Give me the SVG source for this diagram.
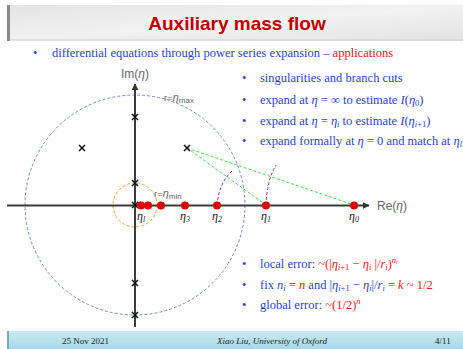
<svg xmlns="http://www.w3.org/2000/svg" width="463" height="349" viewBox="0 0 463 349">
<defs>
<marker id="arr" viewBox="0 0 10 10" refX="9" refY="5" markerWidth="7" markerHeight="7" markerUnits="userSpaceOnUse" orient="auto"><path d="M0,0 L10,5 L0,10 z" fill="#333"/></marker>
<linearGradient id="tb" x1="0" y1="0" x2="1" y2="1"><stop offset="0" stop-color="#e4e4e4"/><stop offset="0.5" stop-color="#f2f2f2"/><stop offset="1" stop-color="#e2e2e2"/></linearGradient>
<linearGradient id="fb" x1="0" y1="0" x2="0" y2="1"><stop offset="0" stop-color="#c8eaf2"/><stop offset="1" stop-color="#a8d8e6"/></linearGradient>
</defs>
<style>
.bul{font-family:"Liberation Serif",serif;font-size:12.5px;fill:#2b3fd0}
.red{fill:#f01818}
.mi{font-style:italic}
.sb{font-size:8.5px}
.ax{stroke:#3a3a3a;stroke-width:2;fill:none}
.lab{font-family:"Liberation Sans",sans-serif;fill:#666}
.eta{font-family:"Liberation Serif",serif;font-style:italic;font-size:12px;fill:#222}
.dot{fill:#e00000}
.x{stroke:#111;stroke-width:1.5}
.ft{font-family:"Liberation Serif",serif;font-size:9px;fill:#222}
</style>
<rect width="463" height="349" fill="#ffffff"/>
<g id="titlebar">
<rect x="7" y="5" width="456" height="36" fill="url(#tb)"/>
<rect x="7" y="5" width="3" height="36" fill="#8a8a8a"/>
<line x1="10" y1="40" x2="463" y2="40" stroke="#cfcfcf" stroke-width="1"/>
<text x="237" y="30" text-anchor="middle" font-family="Liberation Sans,sans-serif" font-weight="bold" font-size="19" fill="#c00000">Auxiliary mass flow</text>
</g>
<g id="intro">
<text x="33" y="57" class="bul">•</text>
<text x="52" y="57" class="bul">differential equations through power series expansion – <tspan class="red">applications</tspan></text>
</g>
<g id="plane">
<circle cx="135" cy="205" r="110" fill="none" stroke="#6b8cce" stroke-width="1" stroke-dasharray="3,2"/>
<circle cx="135" cy="205" r="22" fill="none" stroke="#f0a030" stroke-width="1" stroke-dasharray="3,2"/>
<line x1="7" y1="205.5" x2="369" y2="205.5" class="ax" marker-end="url(#arr)"/>
<line x1="135" y1="327" x2="135" y2="84" class="ax" marker-end="url(#arr)"/>
<text x="135" y="78" text-anchor="middle" class="lab" font-size="12">Im(<tspan font-style="italic">η</tspan>)</text>
<text x="377" y="210" class="lab" font-size="12">Re(<tspan font-style="italic">η</tspan>)</text>
<text x="164" y="101" class="lab" font-size="9.5" fill="#444">r=<tspan font-style="italic" font-size="11">η</tspan><tspan font-size="8" dy="2">max</tspan></text>
<text x="154" y="197" class="lab" font-size="9.5" fill="#444">r=<tspan font-style="italic" font-size="11">η</tspan><tspan font-size="8" dy="2">min</tspan></text>
</g>
<g id="connectors" fill="none">
<line x1="187" y1="148" x2="266" y2="205" stroke="#44dd44" stroke-width="1" stroke-dasharray="3,2"/>
<line x1="187" y1="148" x2="354" y2="205" stroke="#44dd44" stroke-width="1" stroke-dasharray="3,2"/>
<path d="M217,205 Q219,183 232,171" stroke="#a020a0" stroke-width="1" stroke-dasharray="3,2"/>
<path d="M266,205 Q267,180 276,165" stroke="#a020a0" stroke-width="1" stroke-dasharray="3,2"/>
</g>
<g id="singularities">
<path class="x" d="M132,114 l6,6 m0,-6 l-6,6 M132,180 l6,6 m0,-6 l-6,6 M132,202 l6,6 m0,-6 l-6,6 M132,280 l6,6 m0,-6 l-6,6 M132,312 l6,6 m0,-6 l-6,6 M79,145 l6,6 m0,-6 l-6,6 M184,145 l6,6 m0,-6 l-6,6"/>
</g>
<g id="points">
<circle class="dot" cx="141" cy="205.5" r="4"/>
<circle class="dot" cx="148" cy="205.5" r="4"/>
<circle class="dot" cx="161" cy="205.5" r="4"/>
<circle class="dot" cx="185" cy="205.5" r="4"/>
<circle class="dot" cx="217" cy="205.5" r="4"/>
<circle class="dot" cx="266" cy="205.5" r="4"/>
<circle class="dot" cx="354" cy="205.5" r="4"/>
<text class="eta" x="137" y="220">η<tspan font-size="8" dy="2">l</tspan></text>
<text class="eta" x="180" y="220">η<tspan font-size="8" dy="2">3</tspan></text>
<text class="eta" x="212" y="220">η<tspan font-size="8" dy="2">2</tspan></text>
<text class="eta" x="261" y="220">η<tspan font-size="8" dy="2">1</tspan></text>
<text class="eta" x="349" y="220">η<tspan font-size="8" dy="2">0</tspan></text>
</g>
<g id="methods">
<text x="242" y="82" class="bul">•</text><text x="260" y="82" class="bul">singularities and branch cuts</text>
<text x="242" y="104" class="bul">•</text><text x="260" y="104" class="bul">expand at <tspan class="mi">η</tspan> = ∞ to estimate <tspan class="mi">I</tspan>(<tspan class="mi">η</tspan><tspan class="sb" dy="2">0</tspan><tspan dy="-2">)</tspan></text>
<text x="242" y="125" class="bul">•</text><text x="260" y="125" class="bul">expand at <tspan class="mi">η</tspan> = <tspan class="mi">η</tspan><tspan class="sb mi" dy="2">i</tspan><tspan dy="-2"> to estimate </tspan><tspan class="mi">I</tspan>(<tspan class="mi">η</tspan><tspan class="sb" dy="2"><tspan class="mi">i</tspan>+1</tspan><tspan dy="-2">)</tspan></text>
<text x="242" y="145" class="bul">•</text><text x="260" y="145" class="bul">expand formally at <tspan class="mi">η</tspan> = 0 and match at <tspan class="mi">η</tspan><tspan class="sb mi" dy="2">l</tspan></text>
</g>
<g id="errors">
<text x="242" y="268" class="bul">•</text><text x="260" y="268" class="bul">local error: <tspan class="red">~(|<tspan class="mi">η</tspan><tspan class="sb" dy="2"><tspan class="mi">i</tspan>+1</tspan><tspan dy="-2"> − </tspan><tspan class="mi">η</tspan><tspan class="sb mi" dy="2">i</tspan><tspan dy="-2"> |/</tspan><tspan class="mi">r</tspan><tspan class="sb mi" dy="2">i</tspan><tspan dy="-2">)</tspan><tspan class="sb mi" dy="-5">n</tspan><tspan font-size="6" dy="1" class="mi">i</tspan></tspan></text>
<text x="242" y="289" class="bul">•</text><text x="260" y="289" class="bul">fix <tspan class="mi">n</tspan><tspan class="sb mi" dy="2">i</tspan><tspan dy="-2"> = </tspan><tspan class="red mi">n</tspan> and |<tspan class="mi">η</tspan><tspan class="sb" dy="2"><tspan class="mi">i</tspan>+1</tspan><tspan dy="-2"> − </tspan><tspan class="mi">η</tspan><tspan class="sb mi" dy="2">i</tspan><tspan dy="-2">|/</tspan><tspan class="mi">r</tspan><tspan class="sb mi" dy="2">i</tspan><tspan dy="-2"> = </tspan><tspan class="red"><tspan class="mi">k</tspan> ~ 1/2</tspan></text>
<text x="242" y="309" class="bul">•</text><text x="260" y="309" class="bul">global error: <tspan class="red">~(1/2)<tspan class="sb mi" dy="-5">n</tspan></tspan></text>
</g>
<g id="footer">
<rect x="7" y="331" width="456" height="18" fill="url(#fb)"/>
<rect x="7" y="331" width="2" height="18" fill="#7aa8b8"/>
<text x="62" y="344" class="ft">25 Nov 2021</text>
<text x="217" y="344" class="ft" font-style="italic">Xiao Liu, University of Oxford</text>
<text x="435" y="344" class="ft" font-size="7">4/11</text>
</g>
</svg>
